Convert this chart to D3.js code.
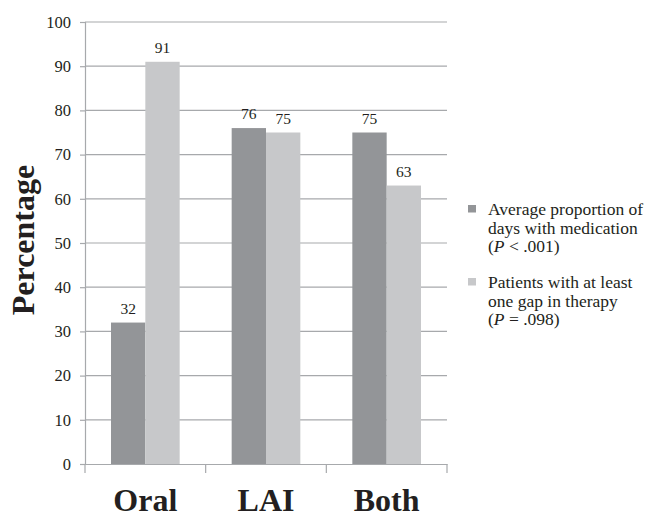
<!DOCTYPE html>
<html>
<head>
<meta charset="utf-8">
<script src="https://cdn.jsdelivr.net/npm/d3@7"></script>
<style>
  body { margin: 0; background: #fff; }
  text { font-family: "Liberation Serif", "Times New Roman", serif; fill: #231f20; }
</style>
</head>
<body>
<svg id="chart" width="651" height="515"></svg>
<script>
const categories = ["Oral", "LAI", "Both"]
const seriesNames = ["adherence", "gap"]
const adherenceValues = [32, 76, 75]
const gapValues = [91, 75, 63]
const yTicks = [0, 10, 20, 30, 40, 50, 60, 70, 80, 90, 100]
const legendLines = [
    [["Average proportion of"], ["days with medication"], ["(", ["P"], " < .001)"]],
    [["Patients with at least"], ["one gap in therapy"], ["(", ["P"], " = .098)"]]
]
const colors = ["#939598", "#c7c8ca"]

const svg = d3.select("#chart")
const plotLeft = 85, plotRight = 447, plotTop = 22, plotBottom = 464

const x = d3.scaleBand().domain(categories).range([plotLeft, plotRight])
const x1 = d3.scaleBand().domain(seriesNames).range([26, x.bandwidth() - 26])
const y = d3.scaleLinear().domain([0, 100]).range([plotBottom, plotTop])

// gridlines
svg.append("g")
    .selectAll("line")
    .data(yTicks.slice(1))
    .enter()
    .append("line")
    .attr("x1", plotLeft)
    .attr("x2", plotRight)
    .attr("y1", d => y(d))
    .attr("y2", d => y(d))
    .attr("stroke", "#a7a9ac")
    .attr("stroke-width", 1.2)

const rows = categories.map((c, i) => ({ cat: c, vals: [adherenceValues[i], gapValues[i]] }))

const groups = svg.append("g")
    .selectAll("g")
    .data(rows)
    .enter()
    .append("g")
    .attr("transform", d => `translate(${x(d.cat)},0)`)

groups.selectAll("rect")
    .data(d => d.vals.map((v, j) => ({ key: seriesNames[j], v, j })))
    .enter()
    .append("rect")
    .attr("x", d => x1(d.key))
    .attr("width", x1.bandwidth())
    .attr("y", d => y(d.v))
    .attr("height", d => y(0) - y(d.v))
    .attr("fill", d => colors[d.j])

groups.selectAll("text")
    .data(d => d.vals.map((v, j) => ({ key: seriesNames[j], v })))
    .enter()
    .append("text")
    .attr("x", d => x1(d.key) + x1.bandwidth() / 2)
    .attr("y", d => y(d.v) - 9)
    .attr("text-anchor", "middle")
    .style("font-size", "15.5px")
    .text(d => d.v)

// axes
const yAxis = d3.axisLeft(y).tickValues(yTicks).tickSize(5).tickPadding(9)
const gy = svg.append("g").attr("transform", `translate(${plotLeft},0)`).call(yAxis)
gy.select(".domain").attr("stroke", "#a7a9ac").attr("stroke-width", 1.2)
gy.selectAll(".tick line").attr("stroke", "#a7a9ac").attr("stroke-width", 1.2)
gy.selectAll(".tick text")
    .style("font-family", '"Liberation Serif", "Times New Roman", serif')
    .style("font-size", "16.5px")
    .attr("fill", "#231f20")

const xAxis = d3.axisBottom(x).tickSize(0).tickPadding(0)
const gx = svg.append("g").attr("transform", `translate(0,${plotBottom})`).call(xAxis)
gx.select(".domain").attr("stroke", "#a7a9ac").attr("stroke-width", 1.2)
gx.selectAll(".tick text")
    .attr("y", 47)
    .attr("dy", 0)
    .style("font-family", '"Liberation Serif", "Times New Roman", serif')
    .style("font-size", "32px")
    .style("font-weight", "bold")
    .attr("fill", "#231f20")

// category separators below the axis
svg.append("g")
    .selectAll("line")
    .data(categories.concat(["end"]))
    .enter()
    .append("line")
    .attr("x1", (d, i) => i < categories.length ? x(d) : plotRight)
    .attr("x2", (d, i) => i < categories.length ? x(d) : plotRight)
    .attr("y1", plotBottom)
    .attr("y2", plotBottom + 9)
    .attr("stroke", "#a7a9ac")
    .attr("stroke-width", 1.2)

// y title
svg.append("text")
    .attr("transform", `translate(34, 240) rotate(-90)`)
    .attr("text-anchor", "middle")
    .style("font-size", "32px")
    .style("font-weight", "bold")
    .text("Percentage")

// legend
const legend = svg.append("g").attr("transform", "translate(468, 205)")
const item = legend.selectAll("g")
    .data(legendLines)
    .enter()
    .append("g")
    .attr("transform", (d, i) => `translate(0, ${i * 73})`)

item.append("rect")
    .attr("width", 8)
    .attr("height", 7.5)
    .attr("fill", (d, i) => colors[i])

const txt = item.append("text")
    .attr("x", 20)
    .attr("y", 10)
    .style("font-size", "17.5px")

txt.each(function (lines) {
    const t = d3.select(this)
    lines.forEach((parts, li) => {
        parts.forEach((p, pi) => {
            const span = t.append("tspan")
            if (pi === 0) span.attr("x", 20).attr("dy", li === 0 ? 0 : 18.7)
            if (Array.isArray(p)) span.style("font-style", "italic").text(p[0])
            else span.text(p)
        })
    })
})
</script>
</body>
</html>
